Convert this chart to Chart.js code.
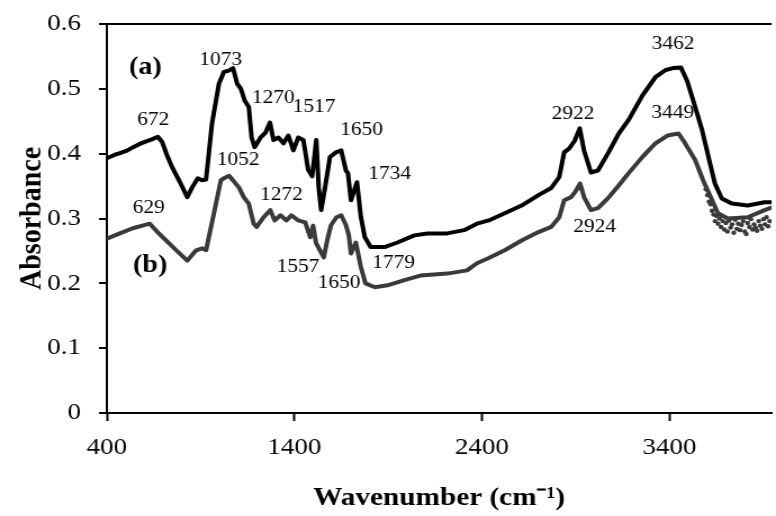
<!DOCTYPE html>
<html>
<head>
<meta charset="utf-8">
<script src="https://cdn.jsdelivr.net/npm/chart.js@4/dist/chart.umd.min.js"></script>
<style>
  html, body { margin: 0; padding: 0; background: #fff; overflow: hidden; }
  canvas { display: block; }
</style>
</head>
<body>
<!-- drawn on a 690px-wide canvas, displayed 776px wide -->
<canvas id="ftir" width="690" height="516" style="width:776px;height:516px"></canvas>
<script>
// FTIR absorbance spectra, wavenumber (cm-1) vs absorbance
const xTicks = [400, 1400, 2400, 3400];
const xMin = 400;
const xMax = 3945;
const yMin = 0;
const yMax = 0.6;
const yStep = 0.1;

// spectrum (a)
const wnA = [400, 440, 470, 510, 540, 575, 610, 640, 672, 695, 720, 750, 790, 829, 855, 885, 907, 929, 961, 998,
  1024, 1050, 1073, 1095, 1115, 1135, 1157, 1172, 1188, 1220, 1245, 1270, 1289, 1315, 1342, 1368, 1395, 1421, 1448, 1474,
  1495, 1517, 1530, 1543, 1564, 1590, 1622, 1650, 1675, 1686, 1702, 1734, 1755, 1776, 1807, 1881, 1950, 2040, 2109, 2215,
  2305, 2374, 2437, 2522, 2612, 2702, 2770, 2813, 2839, 2866, 2895, 2922, 2945, 2982, 3019, 3072, 3130, 3183, 3257, 3326,
  3380, 3420, 3462, 3495, 3522, 3575, 3617, 3643, 3680, 3733, 3818, 3908, 3945];
const absA = [0.393, 0.398, 0.401, 0.405, 0.410, 0.415, 0.419, 0.422, 0.426, 0.418, 0.398, 0.378, 0.356, 0.333, 0.348, 0.362, 0.359, 0.360, 0.447, 0.508,
  0.526, 0.528, 0.532, 0.508, 0.500, 0.482, 0.472, 0.425, 0.410, 0.425, 0.432, 0.448, 0.421, 0.425, 0.416, 0.428, 0.405, 0.425, 0.421, 0.375,
  0.365, 0.421, 0.348, 0.313, 0.348, 0.395, 0.402, 0.405, 0.374, 0.370, 0.328, 0.356, 0.302, 0.271, 0.256, 0.256, 0.263, 0.274, 0.277, 0.277,
  0.282, 0.292, 0.297, 0.308, 0.320, 0.336, 0.347, 0.364, 0.402, 0.408, 0.420, 0.439, 0.405, 0.371, 0.374, 0.400, 0.431, 0.452, 0.490, 0.518,
  0.529, 0.532, 0.533, 0.512, 0.487, 0.436, 0.385, 0.354, 0.331, 0.323, 0.320, 0.325, 0.325];

// spectrum (b)
const wnB = [400, 469, 538, 590, 629, 670, 717, 770, 829, 876, 908, 929, 971, 1008, 1030, 1052, 1075, 1104, 1130, 1157,
  1183, 1199, 1236, 1272, 1295, 1326, 1358, 1384, 1421, 1458, 1485, 1500, 1516, 1557, 1575, 1596, 1625, 1650, 1675, 1690,
  1702, 1728, 1755, 1779, 1829, 1897, 1987, 2072, 2215, 2321, 2374, 2437, 2522, 2612, 2702, 2770, 2813, 2839, 2876, 2900,
  2924, 2945, 2982, 3019, 3072, 3130, 3183, 3257, 3326, 3390, 3449, 3480, 3538, 3580, 3628, 3659, 3712, 3818, 3908, 3945];
const absB = [0.269, 0.277, 0.285, 0.289, 0.292, 0.279, 0.266, 0.251, 0.235, 0.251, 0.254, 0.251, 0.308, 0.359, 0.363, 0.366, 0.358, 0.348, 0.333, 0.323,
  0.292, 0.287, 0.302, 0.313, 0.297, 0.305, 0.297, 0.305, 0.297, 0.294, 0.271, 0.289, 0.262, 0.240, 0.266, 0.290, 0.302, 0.305, 0.290, 0.275,
  0.246, 0.263, 0.225, 0.200, 0.194, 0.197, 0.205, 0.212, 0.215, 0.220, 0.231, 0.239, 0.251, 0.266, 0.279, 0.287, 0.302, 0.328, 0.333, 0.342,
  0.354, 0.333, 0.313, 0.316, 0.331, 0.351, 0.370, 0.395, 0.416, 0.428, 0.431, 0.418, 0.390, 0.359, 0.328, 0.308, 0.300, 0.302, 0.313, 0.317];

// scattered readings of (b) past the O-H band
const wnBNoise = [3595, 3604, 3612, 3620, 3628, 3636, 3644, 3652, 3660, 3668, 3676, 3685, 3693, 3702, 3710, 3718,
  3727, 3735, 3744, 3752, 3760, 3768, 3777, 3785, 3794, 3802, 3810, 3818, 3827, 3835, 3844, 3852, 3860, 3868,
  3877, 3885, 3894, 3902, 3910, 3918, 3927, 3935];
const absBNoise = [0.345, 0.336, 0.326, 0.322, 0.312, 0.306, 0.296, 0.304, 0.292, 0.300, 0.287, 0.296, 0.283, 0.293,
  0.280, 0.297, 0.286, 0.291, 0.278, 0.298, 0.284, 0.292, 0.282, 0.290, 0.296, 0.280, 0.276, 0.293, 0.287, 0.299,
  0.283, 0.291, 0.286, 0.281, 0.296, 0.289, 0.284, 0.299, 0.291, 0.302, 0.288, 0.296];

// labelled bands
const peaksA = [672, 1073, 1270, 1517, 1650, 1734, 2922, 3462];
const peaksB = [629, 1052, 1272, 1557, 1650, 1779, 2924, 3449];
const seriesNames = ['(a)', '(b)'];

// label offsets from the band point, in canvas px
const peakOffsetsA = [[-4, -17], [-11, -8], [3, -25], [-2, -33], [18, -20], [29, -8], [-6, -14], [-7, -23]];
const peakOffsetsB = [[-1, -16], [8, -16], [10, -15], [-23, 10], [-2, 68], [25, -20], [13, 44], [-5, -21]];
// series tags placed in axis units
const seriesTagPos = [[606, 0.533], [631, 0.227]];

const SERIF = '"Liberation Serif", "Times New Roman", serif';

const toPoints = (xs, ys) => xs.map((v, i) => ({ x: v, y: ys[i] }));

const bandLabels = {
  id: 'bandLabels',
  afterDatasetsDraw(chart) {
    const { ctx, scales: { x, y } } = chart;
    ctx.save();
    ctx.fillStyle = '#000';
    ctx.textAlign = 'center';
    ctx.textBaseline = 'middle';
    ctx.font = '19px ' + SERIF;
    const drawSet = (peaks, offs, wns, vals) => {
      peaks.forEach((wn, i) => {
        const v = vals[wns.indexOf(wn)];
        ctx.fillText(String(wn), x.getPixelForValue(wn) + offs[i][0], y.getPixelForValue(v) + offs[i][1]);
      });
    };
    drawSet(peaksA, peakOffsetsA, wnA, absA);
    drawSet(peaksB, peakOffsetsB, wnB, absB);
    ctx.font = 'bold 25px ' + SERIF;
    seriesNames.forEach((t, i) => {
      ctx.fillText(t, x.getPixelForValue(seriesTagPos[i][0]), y.getPixelForValue(seriesTagPos[i][1]));
    });
    ctx.restore();
  }
};

new Chart(document.getElementById('ftir'), {
  type: 'scatter',
  data: {
    datasets: [
      {
        label: seriesNames[0],
        data: toPoints(wnA, absA),
        showLine: true,
        borderColor: '#000',
        borderWidth: 4,
        borderJoinStyle: 'round',
        borderCapStyle: 'round',
        pointRadius: 0,
        tension: 0
      },
      {
        label: seriesNames[1],
        data: toPoints(wnB, absB),
        showLine: true,
        borderColor: '#3a3a3a',
        borderWidth: 4,
        borderJoinStyle: 'round',
        borderCapStyle: 'round',
        pointRadius: 0,
        tension: 0
      },
      {
        label: seriesNames[1] + ' scatter',
        data: toPoints(wnBNoise, absBNoise),
        showLine: false,
        pointRadius: 2.2,
        pointBackgroundColor: '#3a3a3a',
        pointBorderWidth: 0
      }
    ]
  },
  options: {
    responsive: false,
    devicePixelRatio: 1,
    animation: false,
    layout: { padding: { top: 24, right: 0, bottom: 0, left: 0 } },
    plugins: { legend: { display: false }, tooltip: { enabled: false } },
    scales: {
      x: {
        type: 'linear',
        min: xMin,
        max: xMax,
        afterBuildTicks: s => { s.ticks = xTicks.map(v => ({ value: v })); },
        afterFit: s => { s.height = 103; s.paddingLeft = 0; s.paddingRight = 0; },
        grid: { display: true, drawOnChartArea: false, tickLength: 8, tickColor: '#000', tickWidth: 2 },
        border: { display: true, color: '#000', width: 2 },
        ticks: {
          color: '#000',
          padding: 12,
          maxRotation: 0,
          autoSkip: false,
          font: { family: SERIF, size: 24 },
          callback: v => String(v)
        },
        title: {
          display: true,
          text: 'Wavenumber (cm\u207B\u00B9)',
          color: '#000',
          font: { family: SERIF, size: 26, weight: 'bold' },
          padding: { top: 0, bottom: 2 }
        }
      },
      y: {
        min: yMin,
        max: yMax,
        afterFit: s => { s.width = 95; s.paddingTop = 0; s.paddingBottom = 0; },
        grid: {
          display: true,
          drawOnChartArea: true,
          color: c => (c.tick && Math.abs(c.tick.value - yMax) < 1e-9 ? '#000' : 'rgba(0,0,0,0)'),
          lineWidth: 2,
          tickLength: 7,
          tickColor: '#000',
          tickWidth: 2
        },
        border: { display: true, color: '#000', width: 2 },
        ticks: {
          stepSize: yStep,
          color: '#000',
          padding: 16,
          font: { family: SERIF, size: 24 },
          callback: v => (Math.abs(v) < 1e-9 ? '0' : v.toFixed(1))
        },
        title: {
          display: true,
          text: 'Absorbance',
          color: '#000',
          font: { family: SERIF, size: 28, weight: 'bold' },
          padding: { top: 12, bottom: 0 }
        }
      }
    }
  },
  plugins: [bandLabels]
});
</script>
</body>
</html>
